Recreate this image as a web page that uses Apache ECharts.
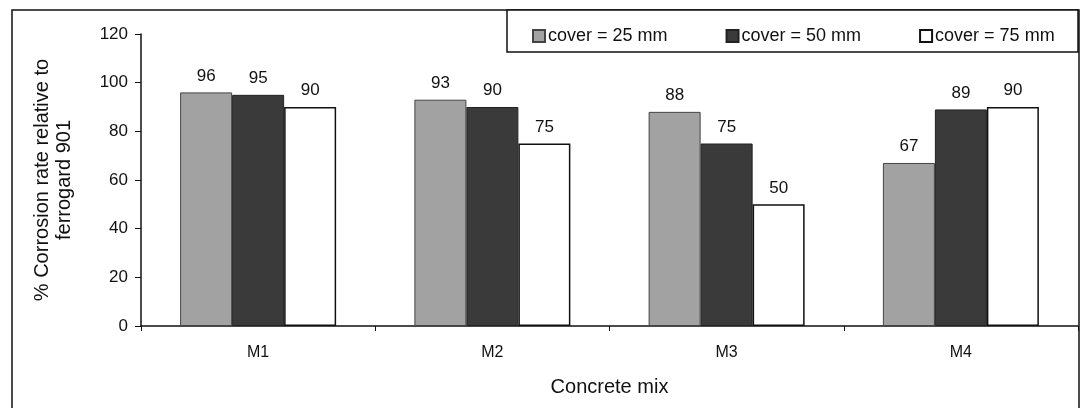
<!DOCTYPE html>
<html>
<head>
<meta charset="utf-8">
<script src="https://cdn.jsdelivr.net/npm/echarts@6/dist/echarts.min.js"></script>
<style>html,body{margin:0;padding:0;background:#fff}#c{width:1082px;height:408px}</style>
</head>
<body>
<div id="c"></div>
<script>
var categories = ['M1', 'M2', 'M3', 'M4'];
var seriesNames = ['cover = 25 mm', 'cover = 50 mm', 'cover = 75 mm'];
var cover25 = [96, 93, 88, 67];
var cover50 = [95, 90, 75, 89];
var cover75 = [90, 75, 50, 90];
var yTicks = [0, 20, 40, 60, 80, 100, 120];

var font = 'Arial, "Liberation Sans", sans-serif';
var chart = echarts.init(document.getElementById('c'));
var labelStyle = { show: true, position: 'top', distance: 8, color: '#111', fontSize: 17, fontFamily: font };

chart.setOption({
  backgroundColor: '#fff',
  animation: false,
  graphic: [
    { type: 'rect', shape: { x: 12, y: 10, width: 1067, height: 430 }, style: { fill: 'none', stroke: '#111', lineWidth: 1.5 }, z: 0 },
    { type: 'rect', shape: { x: 507, y: 10, width: 571, height: 42 }, style: { fill: '#fff', stroke: '#111', lineWidth: 1.5 }, z: 1 }
  ],
  legend: {
    left: 527, top: 22, width: 560, itemWidth: 12, itemHeight: 12, itemGap: 58, z: 10,
    textStyle: { fontSize: 18, fontFamily: font, color: '#111', padding: [0, 0, 0, -2] },
    data: seriesNames.map(function (n) { return { name: n, icon: 'rect' }; })
  },
  grid: { left: 141, right: 4, top: 34, bottom: 82, containLabel: false },
  xAxis: {
    type: 'category', data: categories,
    name: 'Concrete mix', nameLocation: 'middle', nameGap: 51,
    nameTextStyle: { fontSize: 20, fontFamily: font, color: '#111' },
    axisLine: { lineStyle: { color: '#111', width: 1.5 } },
    axisTick: { show: true, length: 5, lineStyle: { color: '#111' } },
    axisLabel: { fontSize: 16, fontFamily: font, color: '#111', margin: 19 }
  },
  yAxis: {
    type: 'value', min: 0, max: 120, interval: 20,
    name: '% Corrosion rate relative to\nferrogard 901', nameLocation: 'middle', nameGap: 66,
    nameTextStyle: { fontSize: 20, fontFamily: font, color: '#111', lineHeight: 22 },
    axisLine: { show: true, lineStyle: { color: '#111', width: 1.5 } },
    axisTick: { show: true, length: 6, lineStyle: { color: '#111' } },
    splitLine: { show: false },
    axisLabel: { fontSize: 17, fontFamily: font, color: '#111', margin: 13,
      formatter: function (v) { return yTicks.indexOf(v) >= 0 ? String(v) : ''; } }
  },
  series: [
    { name: seriesNames[0], type: 'bar', data: cover25, barWidth: 52, barGap: '0%',
      itemStyle: { color: '#a2a2a2', borderColor: '#444', borderWidth: 1 }, label: labelStyle },
    { name: seriesNames[1], type: 'bar', data: cover50, barWidth: 52, barGap: '0%',
      itemStyle: { color: '#3a3a3a', borderColor: '#222', borderWidth: 1 }, label: labelStyle },
    { name: seriesNames[2], type: 'bar', data: cover75, barWidth: 52, barGap: '0%',
      itemStyle: { color: '#ffffff', borderColor: '#111', borderWidth: 1.5 }, label: labelStyle }
  ]
});
</script>
</body>
</html>
